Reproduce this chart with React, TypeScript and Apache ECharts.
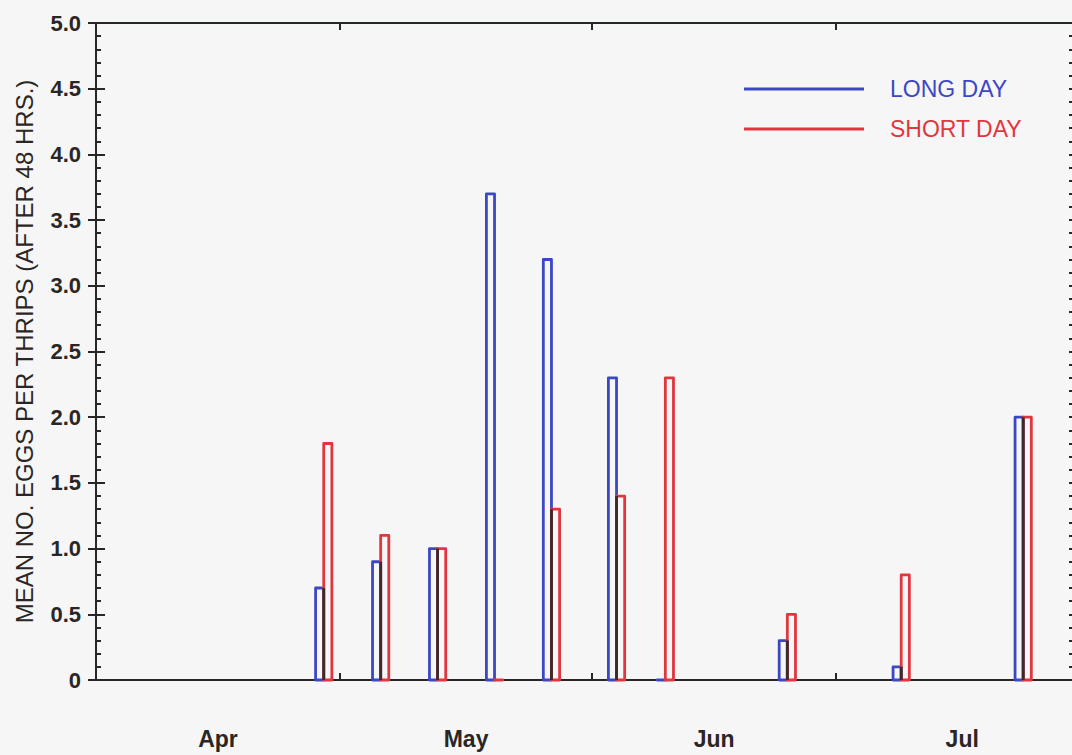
import React, { useEffect, useRef } from "react";
import * as echarts from "echarts";

// ---- data ----
const SAMPLE_DATES = ["Apr 29", "May 6", "May 13", "May 20", "May 27", "Jun 4", "Jun 10", "Jun 25", "Jul 9", "Jul 24"];
const LONG_DAY = [0.7, 0.9, 1.0, 3.7, 3.2, 2.3, 0, 0.3, 0.1, 2.0];
const SHORT_DAY = [1.8, 1.1, 1.0, 0, 1.3, 1.4, 2.3, 0.5, 0.8, 2.0];

const MONTH_LABELS = ["Apr", "May", "Jun", "Jul"];
const MONTH_LABEL_DAYS = [15, 45.5, 76, 106.5]; // mid-month, days since Apr 1
const MONTH_START_DAYS = [30, 61, 91]; // May 1, Jun 1, Jul 1
const MONTH_OFFSETS: Record<string, number> = { Apr: 0, May: 30, Jun: 61, Jul: 91 };

const X_MIN = 0;
const X_MAX = 120;
const Y_MIN = 0;
const Y_MAX = 5;
const Y_INTERVAL = 0.5;
const Y_MINOR_INTERVAL = 0.1;

const SERIES_NAMES = ["LONG DAY", "SHORT DAY"];

const BLUE = "#3c47c4";
const RED = "#e2363f";
const EDGE = "#3a2a2c";
const INK = "#2b2626";

function dayOf(s: string): number {
  const [m, d] = s.split(" ");
  return MONTH_OFFSETS[m] + Number(d) - 1;
}

const DAYS = SAMPLE_DATES.map(dayOf);

export default function App() {
  const ref = useRef<HTMLDivElement>(null);

  useEffect(() => {
    if (!ref.current) return;
    const chart = echarts.init(ref.current, null, { renderer: "svg" });

    const barRenderer = (side: number, color: string) => (params: any, api: any) => {
      const day = api.value(0);
      const val = api.value(1);
      const x0 = side < 0 ? day - 1 : day;
      const x1 = side < 0 ? day : day + 1;
      const p0 = api.coord([x0, val]);
      const p1 = api.coord([x1, 0]);
      return {
        type: "rect",
        shape: { x: p0[0], y: p0[1], width: p1[0] - p0[0], height: p1[1] - p0[1] },
        style: { fill: "none", stroke: color, lineWidth: 2.8, lineJoin: "round" },
      };
    };

    const edgeRenderer = (params: any, api: any) => {
      const day = api.value(0);
      const val = api.value(1);
      if (!(val > 0)) return null;
      const a = api.coord([day, 0]);
      const b = api.coord([day, val]);
      return {
        type: "line",
        shape: { x1: a[0], y1: a[1], x2: b[0], y2: b[1] },
        style: { stroke: EDGE, lineWidth: 2.8 },
      };
    };

    const labelFont = { fontFamily: "Liberation Sans, Arial, sans-serif", color: INK, fontWeight: "bold" };

    const minorAxis = (position: string, length: number) => ({
      type: "value",
      position,
      min: Y_MIN,
      max: Y_MAX,
      interval: Y_MINOR_INTERVAL,
      splitLine: { show: false },
      axisLine: { show: false },
      axisTick: { show: true, inside: true, length, lineStyle: { color: INK, width: 2 } },
      axisLabel: { show: false },
    });

    chart.setOption({
      animation: false,
      backgroundColor: "#f6f6f6",
      grid: { left: 96, right: 0, top: 23, bottom: 75, containLabel: false },
      legend: {
        orient: "vertical",
        left: 739,
        top: 72,
        icon: "rect",
        itemWidth: 120,
        itemHeight: 3,
        itemGap: 16,
        selectedMode: false,
        textStyle: { ...labelFont, fontWeight: "normal", fontSize: 23, lineHeight: 24, padding: [0, 0, 0, 21] },
        data: [
          { name: SERIES_NAMES[0], itemStyle: { color: BLUE }, textStyle: { color: BLUE } },
          { name: SERIES_NAMES[1], itemStyle: { color: RED }, textStyle: { color: RED } },
        ],
      },
      xAxis: [
        {
          type: "value",
          position: "bottom",
          min: X_MIN,
          max: X_MAX,
          splitLine: { show: false },
          axisLine: { show: true, onZero: false, lineStyle: { color: INK, width: 2 } },
          axisTick: { show: true, inside: true, length: 7, customValues: MONTH_START_DAYS, lineStyle: { color: INK, width: 2 } },
          axisLabel: {
            ...labelFont,
            fontSize: 23,
            margin: 47,
            customValues: MONTH_LABEL_DAYS,
            formatter: (v: number) => {
              let best = 0;
              MONTH_LABEL_DAYS.forEach((d, i) => {
                if (Math.abs(d - v) < Math.abs(MONTH_LABEL_DAYS[best] - v)) best = i;
              });
              return MONTH_LABELS[best];
            },
          },
        },
        {
          type: "value",
          position: "top",
          min: X_MIN,
          max: X_MAX,
          splitLine: { show: false },
          axisLine: { show: true, onZero: false, lineStyle: { color: INK, width: 2 } },
          axisTick: { show: true, inside: true, length: 7, customValues: MONTH_START_DAYS, lineStyle: { color: INK, width: 2 } },
          axisLabel: { show: false },
        },
      ],
      yAxis: [
        {
          type: "value",
          position: "left",
          min: Y_MIN,
          max: Y_MAX,
          interval: Y_INTERVAL,
          name: "MEAN NO. EGGS PER THRIPS (AFTER 48 HRS.)",
          nameLocation: "middle",
          nameGap: 60,
          nameTextStyle: { ...labelFont, fontWeight: "normal", fontSize: 24 },
          splitLine: { show: false },
          axisLine: { show: true, onZero: false, lineStyle: { color: INK, width: 2 } },
          axisTick: { show: true, inside: true, length: 9, lineStyle: { color: INK, width: 2 } },
          axisLabel: {
            ...labelFont,
            fontSize: 22,
            margin: 15,
            formatter: (v: number) => (v === 0 ? "0" : v.toFixed(1)),
          },
        },
        {
          type: "value",
          position: "right",
          min: Y_MIN,
          max: Y_MAX,
          interval: Y_INTERVAL,
          splitLine: { show: false },
          axisLine: { show: false },
          axisTick: { show: true, inside: true, length: 8, lineStyle: { color: INK, width: 2 } },
          axisLabel: { show: false },
        },
        minorAxis("left", 5),
        minorAxis("right", 3),
      ],
      series: [
        {
          name: SERIES_NAMES[0],
          type: "custom",
          xAxisIndex: 0,
          yAxisIndex: 0,
          itemStyle: { color: BLUE },
          renderItem: barRenderer(-1, BLUE),
          encode: { x: 0, y: 1 },
          data: DAYS.map((d, i) => [d, LONG_DAY[i]]),
        },
        {
          name: SERIES_NAMES[1],
          type: "custom",
          xAxisIndex: 0,
          yAxisIndex: 0,
          itemStyle: { color: RED },
          renderItem: barRenderer(1, RED),
          encode: { x: 0, y: 1 },
          data: DAYS.map((d, i) => [d, SHORT_DAY[i]]),
        },
        {
          name: "shared edge",
          type: "custom",
          xAxisIndex: 0,
          yAxisIndex: 0,
          renderItem: edgeRenderer,
          encode: { x: 0, y: 1 },
          data: DAYS.map((d, i) => [d, Math.min(LONG_DAY[i], SHORT_DAY[i])]),
        },
      ],
    });

    return () => chart.dispose();
  }, []);

  return (
    <div
      ref={ref}
      style={{ position: "fixed", left: 0, top: 0, width: 1072, height: 755 }}
    />
  );
}
